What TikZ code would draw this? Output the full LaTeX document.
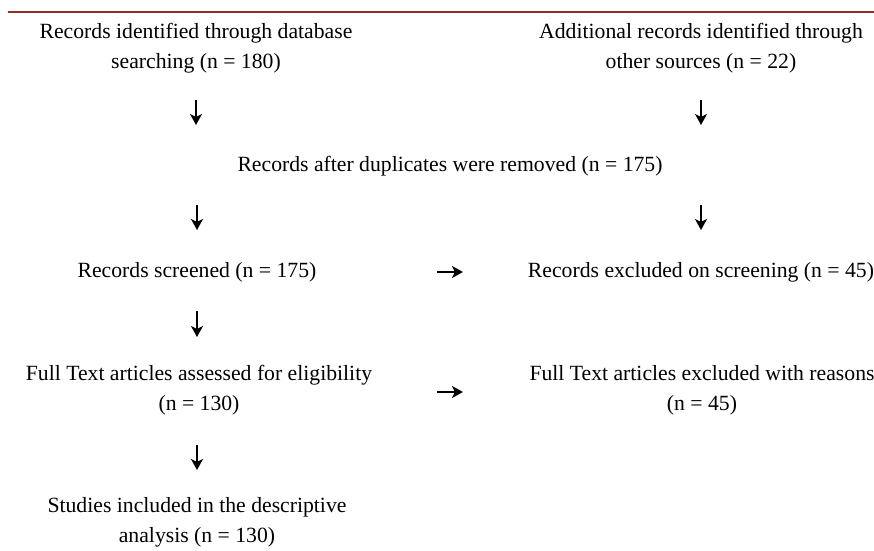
\documentclass[tikz,border=0pt]{standalone}
\usepackage{fontspec}
\setmainfont{Liberation Serif}
\usepackage{tikz}
\usetikzlibrary{arrows.meta}
\usetikzlibrary{positioning}
\definecolor{rulered}{RGB}{150,45,42}
\tikzset{txt/.style = {align = center, inner sep = 0,
                       font = \fontsize{21.7}{30}\selectfont}}
\tikzset{flow/.style = {-{Stealth[length = 11, width = 12, inset = 3]},
                        line width = 1.6}}

\begin{document}
\begin{tikzpicture}[x = 1pt, y = -1pt]
    \useasboundingbox (0, 0) rectangle (874, 550);
    \draw [rulered, line width = 2] (8, 12) -- (874, 12);

    \node (db) at (196, 48) [txt] {Records identified through database\\searching (n = 180)};
    \node (other) at (701, 48) [txt] {Additional records identified through\\other sources (n = 22)};

    \node (dup) at (450, 166) [txt] {Records after duplicates were removed (n = 175)};

    \node (scr) at (197, 272) [txt] {Records screened (n = 175)};
    \node (excl) at (701, 272) [txt] {Records excluded on screening (n = 45)};

    \node (full) at (199, 390) [txt] {Full Text articles assessed for eligibility\\(n = 130)};
    \node (fexcl) at (702, 390) [txt] {Full Text articles excluded with reasons\\(n = 45)};

    \node (stud) at (197, 522) [txt] {Studies included in the descriptive\\analysis (n = 130)};

    \draw [flow, shorten <= 52, shorten >= 41] (db.center) -- (db.center |- dup.center);
    \draw [flow, shorten <= 52, shorten >= 41] (other.center) -- (other.center |- dup.center);
    \draw [flow, shorten <= 39, shorten >= 42] (scr.center |- dup.center) -- (scr.center);
    \draw [flow, shorten <= 39, shorten >= 42] (excl.center |- dup.center) -- (excl.center);
    \draw [flow, shorten <= 240, shorten >= 238] (scr.center) -- (excl.center);
    \draw [flow, shorten <= 39, shorten >= 53] (scr.center) -- (scr.center |- full.center);
    \draw [flow, shorten <= 238, shorten >= 239] ([yshift = -2]full.center) -- ([yshift = -2]fexcl.center);
    \draw [flow, shorten <= 55, shorten >= 52] (scr.center |- full.center) -- (scr.center |- stud.center);
\end{tikzpicture}
\end{document}
